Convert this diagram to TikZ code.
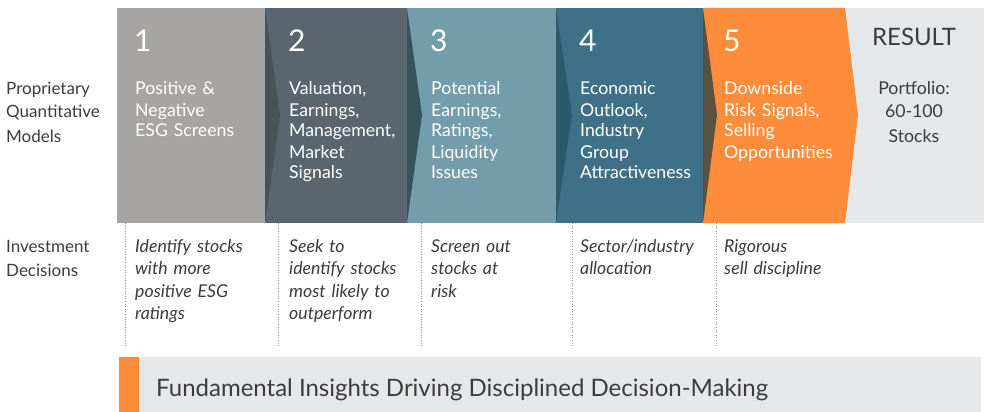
\documentclass[tikz,border=0pt]{standalone}
\usepackage{fontspec}
\setmainfont{Lato}
\definecolor{segA}{HTML}{A6A5A3}
\definecolor{segB}{HTML}{5B6570}
\definecolor{triB}{HTML}{4A5258}
\definecolor{segC}{HTML}{739DAB}
\definecolor{triC}{HTML}{37545C}
\definecolor{segD}{HTML}{3E7088}
\definecolor{triD}{HTML}{2B5A6D}
\definecolor{segE}{HTML}{FD8D3A}
\definecolor{triE}{HTML}{5A5240}
\definecolor{resG}{HTML}{E6E7E9}
\definecolor{txt}{HTML}{3C3C3C}
\begin{document}
\begin{tikzpicture}[x=1pt,y=-1pt,
  numtxt/.style={anchor=base west,inner sep=0,text=white,font=\fontsize{30}{30}\selectfont},
  segtxt/.style={anchor=base west,inner sep=0,text=white,align=left,text width=125pt,font=\fontsize{17.7}{21}\selectfont},
  lbltxt/.style={anchor=base west,inner sep=0,text=txt,align=left,text width=110pt,font=\fontsize{17}{24}\selectfont},
  dectxt/.style={anchor=base west,inner sep=0,text=txt,align=left,text width=140pt,font=\fontsize{17.7}{22.5}\selectfont\itshape},
  divline/.style={draw=gray!80,line width=0.6pt,dotted}]
\useasboundingbox (0,0) rectangle (993,412);
\fill[white] (0,0) rectangle (993,412);
% segments
\fill[resG] (845,8) rectangle (984,223);
\fill[segE] (703,8) -- (845,8) -- (858,115) -- (845,223) -- (703,223) -- cycle;
\fill[segD] (556,8) rectangle (703,223);
\fill[triE] (703,8) -- (717,115) -- (703,223) -- cycle;
\fill[segC] (407,8) rectangle (556,223);
\fill[triD] (556,8) -- (572,115) -- (556,223) -- cycle;
\fill[segB] (265,8) rectangle (407,223);
\fill[triC] (407,8) -- (422,115) -- (407,223) -- cycle;
\fill[segA] (117,8) rectangle (265,223);
\fill[triB] (265,8) -- (280,115) -- (265,223) -- cycle;
% numbers
\node[numtxt] (n1) at (134,52) {1};
\node[numtxt] (n2) at (288,52) {2};
\node[numtxt] (n3) at (430,52) {3};
\node[numtxt] (n4) at (579,52) {4};
\node[numtxt] (n5) at (723,52) {5};
\node[anchor=base,inner sep=0,text=txt,font=\fontsize{24}{24}\selectfont] (res) at (914,46) {RESULT};
% segment texts
\node[segtxt] (s1) at (135,95) {Positive \&\\Negative\\ESG Screens};
\node[segtxt] (s2) at (289,95) {Valuation,\\Earnings,\\Management,\\Market\\Signals};
\node[segtxt] (s3) at (431,95) {Potential\\Earnings,\\Ratings,\\Liquidity\\Issues};
\node[segtxt] (s4) at (580,95) {Economic\\Outlook,\\Industry\\Group\\Attractiveness};
\node[segtxt] (s5) at (724,95) {Downside\\Risk Signals,\\Selling\\Opportunities};
\node[anchor=base,inner sep=0,text=txt,align=center,text width=100pt,font=\fontsize{17.7}{24}\selectfont] (r1) at (914,94) {Portfolio:\\60-100\\Stocks};
% left labels
\node[lbltxt] (l1) at (6,94) {Proprietary\\Quantitative\\Models};
\node[lbltxt] (l2) at (6,252) {Investment\\Decisions};
% dotted dividers
\coordinate (d1a) at (125,223); \coordinate (d1b) at (125,347);
\coordinate (d2a) at (278,223); \coordinate (d2b) at (278,347);
\coordinate (d3a) at (421,223); \coordinate (d3b) at (421,347);
\coordinate (d4a) at (572,223); \coordinate (d4b) at (572,347);
\coordinate (d5a) at (716,223); \coordinate (d5b) at (716,347);
\draw[divline] (d1a) -- (d1b);
\draw[divline] (d2a) -- (d2b);
\draw[divline] (d3a) -- (d3b);
\draw[divline] (d4a) -- (d4b);
\draw[divline] (d5a) -- (d5b);
% decisions
\node[dectxt] (e1) at (135,252) {Identify stocks\\with more\\positive ESG\\ratings};
\node[dectxt] (e2) at (289,252) {Seek to\\identify stocks\\most likely to\\outperform};
\node[dectxt] (e3) at (431,252) {Screen out\\stocks at\\risk};
\node[dectxt] (e4) at (580,252) {Sector/industry\\allocation};
\node[dectxt] (e5) at (724,252) {Rigorous\\sell discipline};
% bottom bar
\fill[resG] (139,357) rectangle (981,412);
\fill[segE] (119,357) rectangle (139,412);
\node[anchor=base west,inner sep=0,text=txt,font=\fontsize{24}{24}\selectfont] (bt) at (156,396) {Fundamental Insights Driving Disciplined Decision-Making};
\end{tikzpicture}
\end{document}
